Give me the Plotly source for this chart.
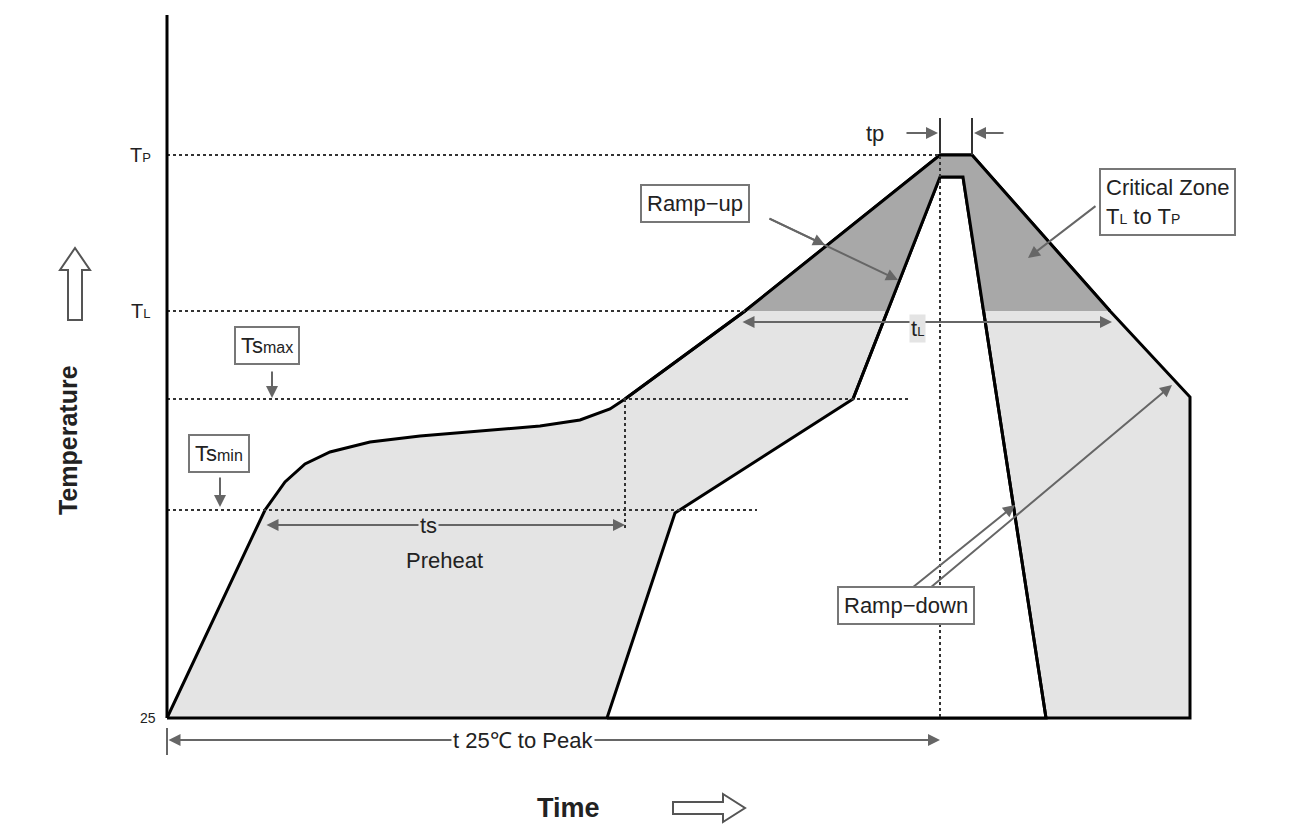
import plotly.graph_objects as go

# schematic coordinates (diagram units, y grows downward)
outer_x = [167, 265, 285, 305, 330, 370, 420, 480, 540, 580, 610, 625, 745, 940, 972, 1110, 1190, 1190, 167]
outer_y = [718, 510, 482, 464, 452, 442, 436, 431, 426, 420, 409, 399, 311, 155, 155, 311, 397, 718, 718]
inner_x = [607, 675, 853, 940, 963, 1046, 607]
inner_y = [718, 513, 399, 177, 177, 718, 718]
crit_x = [745, 940, 972, 1110, 983.6, 963, 940, 887.5, 745]
crit_y = [311, 155, 155, 311, 311, 177, 177, 311, 311]
levels = {"TP": 155, "TL": 311, "Tsmax": 399, "Tsmin": 510, "25": 718}
level_ends = {"TP": 940, "TL": 745, "Tsmax": 910, "Tsmin": 757}

F = "Liberation Sans, Arial, sans-serif"
fig = go.Figure()
fig.add_trace(go.Scatter(x=outer_x, y=outer_y, fill="toself", fillcolor="#e4e4e4",
                         line=dict(color="black", width=3), mode="lines", hoverinfo="skip"))
fig.add_trace(go.Scatter(x=inner_x, y=inner_y, fill="toself", fillcolor="white",
                         line=dict(color="black", width=3), mode="lines", hoverinfo="skip"))
fig.add_trace(go.Scatter(x=crit_x, y=crit_y, fill="toself", fillcolor="#a8a8a8",
                         line=dict(color="rgba(0,0,0,0)", width=0), mode="lines", hoverinfo="skip"))
fig.add_trace(go.Scatter(x=outer_x[11:16], y=outer_y[11:16], line=dict(color="black", width=3), mode="lines", hoverinfo="skip"))
fig.add_trace(go.Scatter(x=inner_x[2:6], y=inner_y[2:6], line=dict(color="black", width=3), mode="lines", hoverinfo="skip"))

shapes = []
for k, e in level_ends.items():
    shapes.append(dict(type="line", x0=167, x1=e, y0=levels[k], y1=levels[k],
                       line=dict(color="#333", width=2, dash="dot")))
shapes += [
    dict(type="line", x0=940, x1=940, y0=120, y1=718, line=dict(color="#333", width=2, dash="dot")),
    dict(type="line", x0=625, x1=625, y0=399, y1=530, line=dict(color="#333", width=2, dash="dot")),
    dict(type="line", x0=972, x1=972, y0=118, y1=155, line=dict(color="#333", width=2)),
    dict(type="line", x0=940, x1=940, y0=118, y1=150, line=dict(color="#333", width=2)),
    dict(type="line", x0=167, x1=167, y0=15, y1=718, line=dict(color="black", width=3)),
    dict(type="line", x0=167, x1=167, y0=728, y1=755, line=dict(color="#666", width=2)),
    dict(type="path", path="M68,320 L82,320 L82,270 L90,270 L75,248 L60,270 L68,270 Z",
         line=dict(color="#555", width=2), fillcolor="white"),
    dict(type="path", path="M673,802 L723,802 L723,794 L745,808 L723,822 L723,814 L673,814 Z",
         line=dict(color="#555", width=2), fillcolor="white"),
]

ann = []
def arrow(x, y, ax, ay, both=False):
    ann.append(dict(x=x, y=y, ax=ax, ay=ay, xref="x", yref="y", axref="x", ayref="y",
                    text="", showarrow=True, arrowhead=2, arrowsize=1.2, arrowwidth=2,
                    arrowcolor="#666", arrowside="end+start" if both else "end"))
def text(x, y, t, size=22, box=False, **kw):
    d = dict(x=x, y=y, xref="x", yref="y", text=t, showarrow=False,
             font=dict(family=F, size=size, color="#222"), **kw)
    if box:
        d.update(bordercolor="#777", borderwidth=2, bgcolor="white", borderpad=5)
    ann.append(d)

arrow(938, 133, 905, 133); arrow(974, 133, 1005, 133)
arrow(825, 245, 768, 218); arrow(898, 280, 768, 218)
arrow(1028, 258, 1097, 205)
arrow(272, 398, 272, 370)
arrow(220, 507, 220, 476)
arrow(1015, 505, 912, 588); arrow(1172, 385, 930, 588)
arrow(1112, 322, 741, 322, both=True)
arrow(625, 525, 265, 525, both=True)
arrow(940, 740, 167, 740, both=True)

text(917, 328, "t<span style='font-size:13px'>L</span>", 22, bgcolor="#e4e4e4")
text(428, 525, "ts", 22, bgcolor="#e4e4e4")
text(444, 560, "Preheat", 22)
text(523, 740, "t 25℃ to Peak", 22, bgcolor="white")
text(875, 133, "tp", 22)
text(695, 203, "Ramp−up", 22, box=True)
text(1167, 202, "Critical Zone<br>T<span style='font-size:14px'>L</span> to T<span style='font-size:14px'>P</span>", 22, box=True, align="left")
text(267, 345, "Ts<span style='font-size:16px'>max</span>", 22, box=True)
text(219, 453, "Ts<span style='font-size:16px'>min</span>", 22, box=True)
text(906, 605, "Ramp−down", 22, box=True)
text(140, 155, "T<span style='font-size:13px'>P</span>", 20)
text(140, 311, "T<span style='font-size:13px'>L</span>", 20)
text(148, 718, "25", 14)
text(68, 440, "<b>Temperature</b>", 25, textangle=-90)
text(568, 808, "<b>Time</b>", 27)

fig.update_layout(width=1302, height=831, margin=dict(l=0, r=0, t=0, b=0),
                  plot_bgcolor="white", paper_bgcolor="white", showlegend=False,
                  shapes=shapes, annotations=ann,
                  xaxis=dict(range=[8, 1310], visible=False),
                  yaxis=dict(range=[839, 8], visible=False))
fig.write_html("out.html")
